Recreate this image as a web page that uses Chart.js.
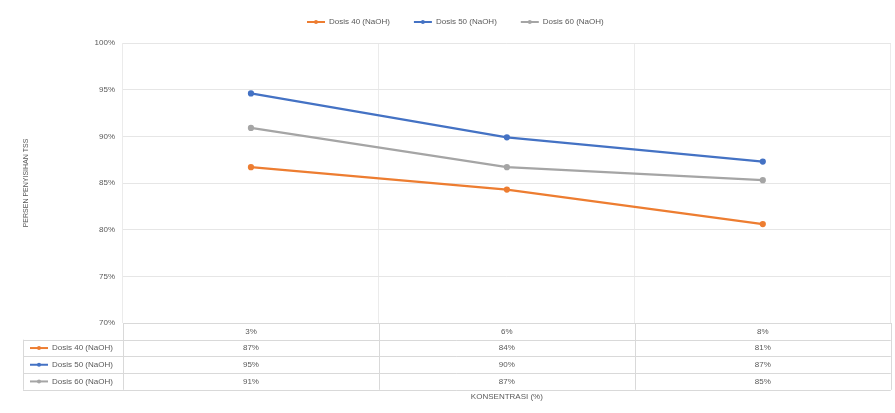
<!DOCTYPE html>
<html>
<head>
<meta charset="utf-8">
<script src="https://cdn.jsdelivr.net/npm/chart.js@4.4.1/dist/chart.umd.min.js"></script>
<style>
  html, body { margin: 0; padding: 0; background: #ffffff; }
  #wrap { width: 895px; height: 413px; position: relative; }
</style>
</head>
<body>
<div id="wrap"><canvas id="c" width="895" height="413"></canvas></div>
<script>
// Concentration categories (x axis / table header)
const categories = ['3%', '6%', '8%'];

// Series names
const seriesNames = ['Dosis 40 (NaOH)', 'Dosis 50 (NaOH)', 'Dosis 60 (NaOH)'];

// Removal percentages per dose (fractions)
const dosis40 = [0.867, 0.843, 0.806];
const dosis50 = [0.946, 0.899, 0.873];
const dosis60 = [0.909, 0.867, 0.853];

// Y axis range and step
const yMin = 0.70;
const yMax = 1.00;
const yStep = 0.05;

const yTitle = 'PERSEN PENYISIHAN TSS';
const xTitle = 'KONSENTRASI (%)';

const colors = ['#ED7D31', '#4472C4', '#A5A5A5'];
const seriesData = [dosis40, dosis50, dosis60];
const FONT = "'Liberation Sans Narrow', 'Liberation Sans', Arial, sans-serif";
const TEXT = '#595959';

const pct = v => Math.round(v * 100) + '%';

// Small line-with-marker key, used in the legend and in the data table
function drawKey(ctx, x, y, color) {
  ctx.save();
  ctx.strokeStyle = color;
  ctx.lineWidth = 2;
  ctx.beginPath();
  ctx.moveTo(x, y);
  ctx.lineTo(x + 18, y);
  ctx.stroke();
  ctx.fillStyle = color;
  ctx.beginPath();
  ctx.arc(x + 9, y, 2, 0, Math.PI * 2);
  ctx.fill();
  ctx.restore();
}

const tablePlugin = {
  id: 'dataTableAndLegend',
  afterDraw(chart) {
    const ctx = chart.ctx;
    const area = chart.chartArea;
    const xs = chart.scales.x;
    const n = categories.length;
    const catW = (area.right - area.left) / n;
    const rowH = 16.7;
    const top = area.bottom;
    const keyLeft = 23;

    ctx.save();
    ctx.strokeStyle = '#D9D9D9';
    ctx.lineWidth = 1;

    // horizontal rules
    for (let r = 1; r <= 4; r++) {
      const y = Math.round(top + r * rowH) + 0.5;
      ctx.beginPath();
      ctx.moveTo(keyLeft, y);
      ctx.lineTo(area.right, y);
      ctx.stroke();
    }
    // vertical rules
    const vline = (x, y0, y1) => {
      ctx.beginPath();
      ctx.moveTo(Math.round(x) + 0.5, y0);
      ctx.lineTo(Math.round(x) + 0.5, y1);
      ctx.stroke();
    };
    vline(keyLeft, top + rowH, top + 4 * rowH);
    for (let i = 0; i <= n; i++) {
      vline(area.left + i * catW, top, top + 4 * rowH);
    }

    ctx.fillStyle = TEXT;
    ctx.font = '8px ' + FONT;
    ctx.textAlign = 'center';
    ctx.textBaseline = 'middle';

    // header row with category names
    categories.forEach((c, i) => {
      ctx.fillText(c, xs.getPixelForValue(i), top + rowH / 2);
    });

    // one row per series
    seriesData.forEach((vals, s) => {
      const yMid = top + (s + 1.5) * rowH;
      drawKey(ctx, keyLeft + 7, yMid, colors[s]);
      ctx.textAlign = 'left';
      ctx.fillText(seriesNames[s], keyLeft + 29, yMid);
      ctx.textAlign = 'center';
      vals.forEach((v, i) => {
        ctx.fillText(pct(v), xs.getPixelForValue(i), yMid);
      });
    });

    // x axis title
    ctx.fillText(xTitle, (area.left + area.right) / 2, top + 4 * rowH + 7);

    // legend on top
    ctx.textAlign = 'left';
    const gap = 24;
    const widths = seriesNames.map(t => 22 + ctx.measureText(t).width);
    let lx = 307;
    const ly = 22;
    seriesNames.forEach((t, s) => {
      drawKey(ctx, lx, ly, colors[s]);
      ctx.fillText(t, lx + 22, ly);
      lx += widths[s] + gap;
    });

    ctx.restore();
  }
};

new Chart(document.getElementById('c'), {
  type: 'line',
  data: {
    labels: categories,
    datasets: seriesData.map((d, s) => ({
      label: seriesNames[s],
      data: d,
      borderColor: colors[s],
      backgroundColor: colors[s],
      borderWidth: 2.25,
      pointRadius: 2,
      pointHoverRadius: 2,
      tension: 0,
      fill: false
    }))
  },
  options: {
    responsive: false,
    animation: false,
    devicePixelRatio: 1,
    layout: { padding: { top: 43, right: 2, left: 0, bottom: 0 } },
    plugins: {
      legend: { display: false },
      tooltip: { enabled: false }
    },
    scales: {
      x: {
        type: 'category',
        offset: true,
        grid: { offset: true, color: '#EBEBEB', drawTicks: false },
        border: { color: '#D9D9D9' },
        ticks: { display: false },
        afterFit(scale) { scale.height = 413 - 323; }
      },
      y: {
        min: yMin,
        max: yMax,
        grid: { color: '#E6E6E6', drawTicks: false },
        border: { display: false },
        ticks: {
          stepSize: yStep,
          padding: 8,
          color: TEXT,
          font: { family: FONT, size: 8 },
          callback: v => Math.round(v * 100) + '%'
        },
        title: {
          display: true,
          text: yTitle,
          color: TEXT,
          font: { family: FONT, size: 7 },
          padding: { top: 22, bottom: 0 }
        },
        afterFit(scale) { scale.width = 123; }
      }
    }
  },
  plugins: [tablePlugin]
});
</script>
</body>
</html>
